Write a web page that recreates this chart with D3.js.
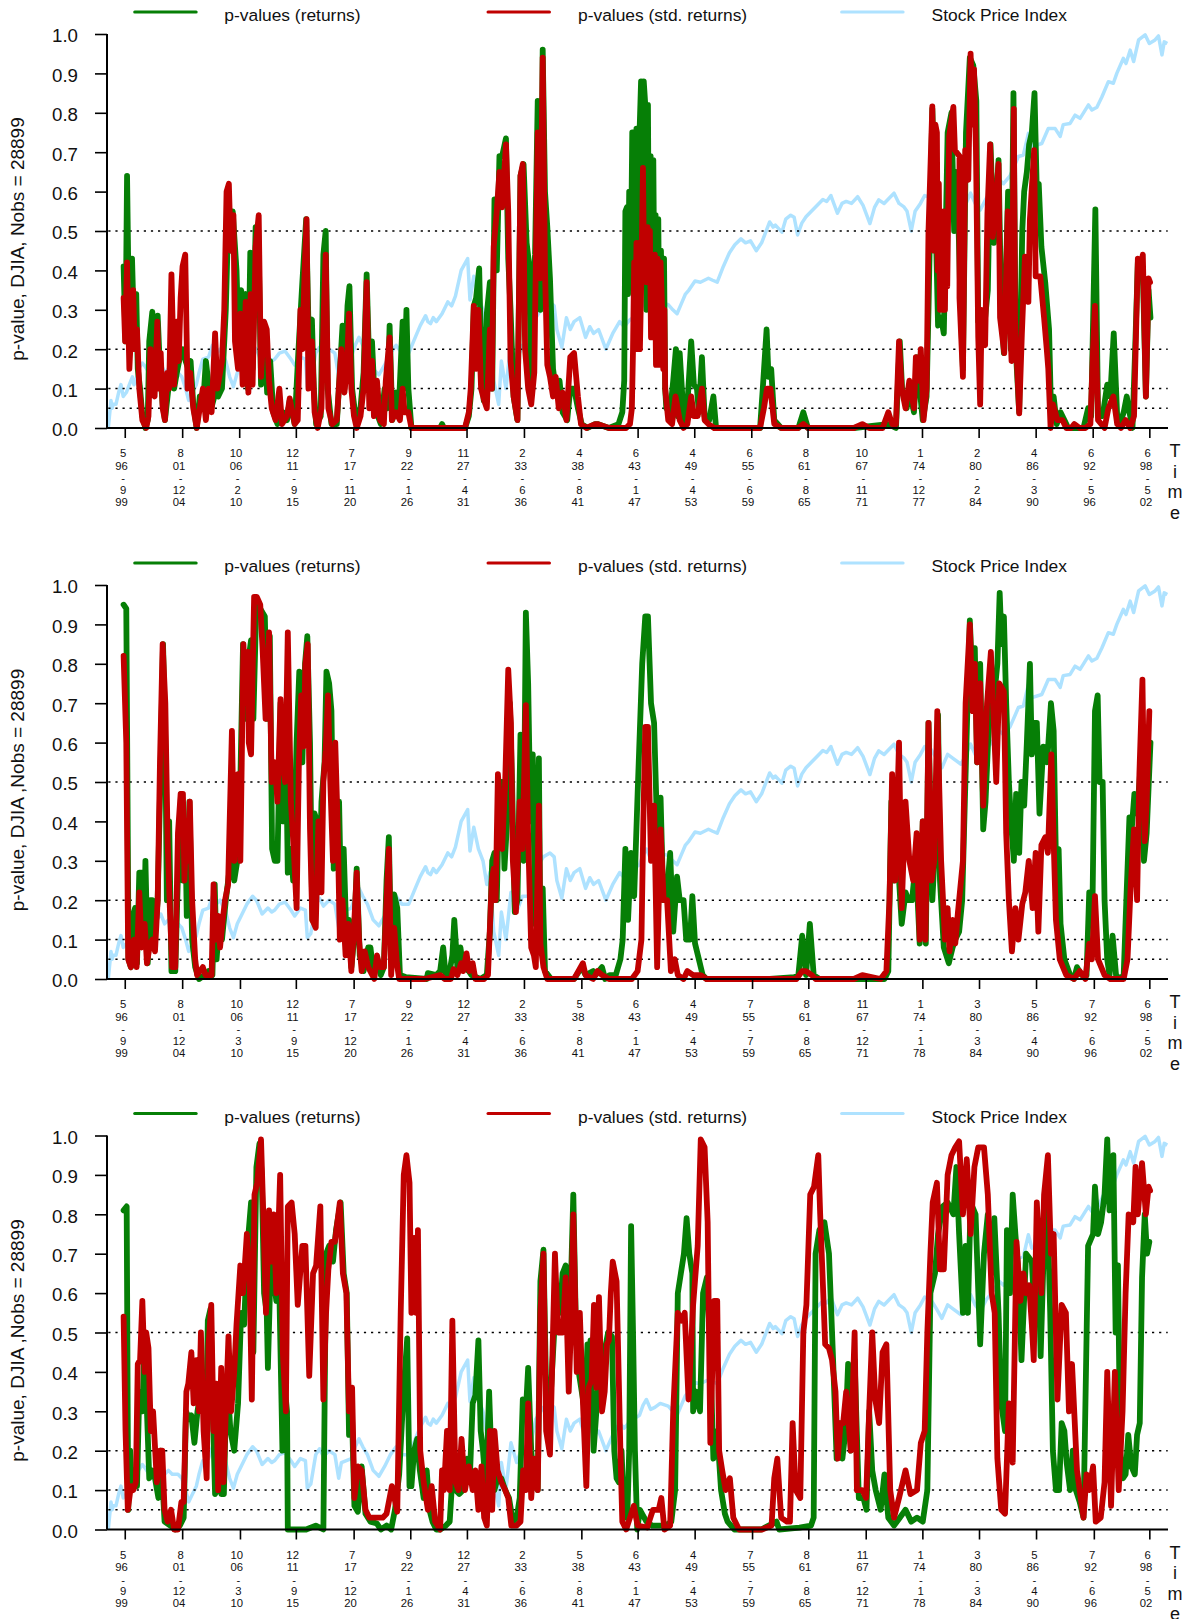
<!DOCTYPE html>
<html><head><meta charset="utf-8"><script src="https://cdn.jsdelivr.net/npm/d3@7"></script>
<style>html,body{margin:0;padding:0;background:#fff;overflow:hidden}svg{display:block}text{font-family:"Liberation Sans",Arial,sans-serif;fill:#111}</style></head>
<body><div id="c"></div>
<script>
// x values are observation numbers /10 on the plot's time axis; y values are p-values (flat x,y lists)
const stockIndex=[283,0,286,.03,290,.07,293,.05,296,.06,303,.06,310,.09,316,.11,322,.08,330,.09,338,.11,346,.13,350,.11,355,.12,362,.15,372,.165,380,.155,390,.14,400,.13,410,.15,420,.165,430,.14,440,.15,450,.14,465,.14,475,.13,485,.1,493,.07,503,.09,513,.11,520,.14,530,.175,545,.18,555,.21,565,.19,575,.2,590,.17,600,.13,610,.105,620,.14,630,.16,645,.19,660,.21,670,.2,685,.165,700,.18,710,.17,718,.175,730,.19,745,.195,760,.175,770,.16,785,.18,798,.175,803,.105,812,.115,825,.19,835,.205,845,.185,860,.2,875,.19,885,.13,892,.17,905,.175,918,.18,928,.21,938,.23,948,.21,960,.19,975,.15,990,.135,1005,.16,1020,.19,1035,.21,1050,.19,1068,.19,1085,.23,1098,.26,1112,.285,1118,.27,1125,.265,1132,.28,1140,.27,1155,.29,1170,.32,1180,.31,1190,.335,1205,.4,1222,.43,1228,.325,1238,.385,1250,.33,1262,.3,1272,.24,1280,.27,1290,.12,1303,.06,1310,.17,1322,.1,1335,.22,1350,.17,1365,.21,1385,.21,1400,.28,1420,.31,1437,.32,1448,.31,1455,.25,1468,.205,1480,.28,1490,.25,1500,.27,1515,.28,1530,.23,1541,.257,1551,.24,1564,.25,1583,.2,1601,.24,1619,.27,1631,.257,1646,.275,1671,.29,1680,.315,1689,.33,1700,.305,1711,.31,1725,.32,1746,.313,1758,.3,1769,.29,1780,.315,1791,.34,1800,.35,1816,.373,1830,.37,1851,.38,1862,.375,1874,.37,1890,.41,1906,.445,1920,.465,1936,.48,1948,.47,1961,.475,1976,.45,1990,.47,2011,.523,2020,.51,2026,.515,2043,.497,2053,.53,2066,.54,2075,.535,2084,.49,2095,.52,2106,.536,2120,.55,2136,.566,2150,.58,2160,.575,2171,.59,2188,.545,2200,.57,2211,.575,2225,.57,2241,.587,2255,.565,2273,.519,2285,.56,2296,.579,2310,.57,2325,.585,2336,.596,2349,.57,2361,.562,2370,.55,2381,.5,2391,.55,2405,.57,2416,.59,2431,.585,2447,.56,2461,.536,2476,.57,2490,.56,2511,.545,2524,.57,2536,.596,2548,.57,2561,.553,2578,.585,2591,.6,2611,.63,2622,.62,2639,.64,2661,.689,2674,.693,2687,.748,2696,.714,2722,.722,2739,.76,2757,.76,2770,.74,2778,.77,2796,.773,2809,.794,2822,.786,2844,.82,2853,.807,2866,.814,2879,.84,2896,.879,2909,.875,2918,.9,2935,.938,2942,.925,2953,.959,2962,.93,2975,.985,2992,.998,3003,.976,3018,.985,3027,.995,3036,.947,3042,.98,3050,.976];

const p1Returns=[323,.41,328,.22,332,.64,336,.35,340,.3,345,.43,350,.25,356,.34,360,.15,366,.1,372,.03,380,0,386,.02,390,.22,398,.295,404,.1,412,.285,418,.15,425,.06,431,.02,440,.1,448,.2,455,.1,462,.14,470,.18,478,.2,485,.17,492,.15,498,.17,505,.06,514,0,522,.08,532,.08,538,.17,545,.11,552,.05,563,.09,570,.08,580,.1,590,.3,597,.55,602,.45,608,.55,618,.4,624,.2,630,.35,636,.3,642,.34,648,.1,654,.445,660,.15,668,.51,675,.5,682,.11,690,.25,698,.09,706,.17,714,.04,725,.01,740,.04,750,.02,757,.07,770,.01,780,.2,790,.37,800,.53,806,.26,815,.275,820,.1,826,.01,838,.03,845,.44,851,.5,856,.1,866,.01,880,.01,895,.26,900,.1,908,.31,913,.36,920,.1,930,.02,940,.03,950,.14,958,.39,965,.15,972,.22,980,.05,995,.01,1005,.1,1012,.05,1018,.26,1025,.02,1035,.09,1042,.05,1052,.27,1056,.1,1062,.3,1067,.1,1075,0,1100,0,1150,0,1155,.01,1160,0,1215,0,1225,.03,1232,.1,1238,.31,1244,.33,1252,.405,1258,.15,1264,.07,1272,.29,1280,.37,1286,.1,1292,.58,1298,.4,1305,.69,1312,.69,1322,.735,1328,.43,1334,.3,1342,.08,1352,.02,1360,.64,1368,.67,1376,.47,1382,.42,1388,.12,1393,.35,1398,.44,1405,.83,1412,.3,1418,.96,1424,.6,1430,.51,1437,.38,1445,.15,1452,.1,1462,.12,1470,.04,1482,.02,1490,.1,1500,.1,1510,.05,1520,.01,1535,0,1555,.01,1561,.01,
1591,0,1616,.01,1626,.04,1631,.12,1634,.55,1638,.56,1641,.34,1644,.6,1648,.38,1652,.75,1656,.75,1659,.35,1663,.76,1667,.4,1671,.75,1675,.88,1679,.36,1682,.88,1686,.82,1689,.3,1693,.82,1696,.3,1700,.69,1703,.3,1707,.68,1710,.3,1713,.54,1716,.25,1720,.53,1723,.2,1727,.45,1730,.2,1735,.43,1738,.1,1741,.05,1751,.04,1759,.12,1766,.2,1771,.03,1776,.19,1786,.03,1793,.01,1806,.22,1813,.11,1821,.1,1826,.04,1834,.18,1841,.03,1853,.02,1864,.08,1871,0,1931,0,1986,0,1993,.1,2003,.25,2008,.13,2015,.15,2023,.02,2041,0,2086,0,2099,.04,2111,0,2231,0,2321,.01,2341,0,2351,.22,2357,.1,2369,.05,2376,.1,2388,.04,2396,.18,2403,.1,2411,.02,2421,.08,2426,.3,2436,.81,2443,.6,2451,.26,2459,.28,2466,.24,2476,.75,2486,.8,2493,.5,2501,.65,2509,.34,2516,.15,2524,.75,2534,.94,2543,.92,2551,.83,2556,.27,2571,.25,2581,.35,2588,.72,2597,.47,2609,.68,2616,.3,2623,.19,2634,.6,2641,.2,2648,.85,2654,.2,2663,.04,2671,.5,2676,.6,2683,.65,2689,.72,2696,.75,2703,.85,2709,.6,2714,.62,2721,.46,2731,.37,2741,.25,2746,.05,2753,.08,2761,.01,2771,.04,2781,.02,2791,0,2831,0,2843,.05,2851,.03,2862,.555,2869,.03,2881,.03,2893,.11,2901,.08,2910,.24,2919,.03,2926,.01,2936,.04,2944,.08,2951,.04,2959,0,2966,.2,2973,.42,2981,.42,2986,.4,2994,.08,3001,.35,3006,.28];
const p1Std=[323,.33,327,.22,332,.42,338,.15,348,.35,352,.2,358,.25,364,.1,372,.02,382,0,388,.03,393,.2,399,.09,404,.08,411,.27,416,.1,420,.19,425,.05,431,.02,437,.14,442,.1,448,.39,455,.11,461,.27,467,.17,472,.33,477,.41,484,.44,490,.1,497,.14,505,.05,514,0,522,.05,530,.1,538,.02,545,.1,553,.04,562,.24,568,.1,580,.17,586,.3,592,.6,598,.62,603,.45,610,.54,614,.22,622,.15,628,.29,634,.11,642,.32,649,.09,655,.34,660,.11,668,.46,676,.54,682,.13,690,.27,697,.25,703,.12,710,.05,720,.02,730,.1,737,.01,750,.03,757,.075,770,.01,778,.02,785,.3,790,.2,796,.4,801,.53,806,.1,815,.22,822,.04,830,0,840,.05,846,.3,851,.44,858,.05,868,.01,880,.02,892,.2,900,.09,906,.15,912,.29,918,.1,925,.03,932,0,942,.03,950,.1,958,.37,965,.05,972,.17,977,.03,985,.12,993,.02,1003,.01,1008,.12,1018,.23,1024,.02,1035,.04,1045,.02,1052,.1,1057,.04,1067,.04,1075,0,1130,0,1150,0,1215,0,1225,.04,1230,.1,1238,.31,1244,.15,1250,.3,1257,.1,1265,.07,1272,.05,1280,.25,1285,.1,1290,.46,1298,.55,1305,.65,1312,.56,1322,.72,1328,.55,1334,.17,1342,.08,1352,.02,1360,.64,1366,.67,1372,.2,1380,.1,1388,.06,1396,.14,1405,.75,1411,.38,1418,.94,1424,.4,1430,.16,1437,.13,1445,.08,1452,.13,1460,.05,1470,.09,1480,.02,1490,.18,1500,.19,1510,.08,1518,.01,1532,0,1555,.01,1561,.01,
1591,0,1636,0,1646,.01,1651,.05,1654,.2,1657,.42,1660,.2,1663,.47,1666,.2,1669,.47,1672,.2,1676,.4,1680,.66,1683,.38,1686,.5,1689,.37,1692,.51,1695,.37,1698,.5,1701,.23,1705,.44,1708,.23,1711,.44,1714,.16,1718,.43,1721,.16,1726,.42,1730,.3,1733,.15,1736,.3,1738,.1,1746,.02,1756,.01,1765,.08,1776,.02,1786,0,1796,.01,1806,.08,1813,.03,1823,.03,1834,.1,1841,.02,1851,.01,1866,0,1986,0,1996,.05,2004,.1,2013,.1,2023,.01,2041,0,2086,0,2099,.01,2111,0,2231,0,2253,.01,2271,0,2306,0,2321,.04,2331,.01,2341,.01,2349,.22,2356,.1,2366,.05,2376,.12,2388,.05,2393,.18,2401,.12,2406,.2,2413,.02,2421,.1,2426,.5,2436,.816,2440,.45,2444,.77,2448,.75,2450,.4,2453,.62,2456,.3,2460,.55,2463,.3,2466,.55,2469,.3,2472,.55,2475,.36,2480,.74,2491,.815,2495,.705,2507,.69,2507,.33,2516,.13,2522,.705,2530,.63,2536,.95,2542,.77,2545,.91,2550,.705,2556,.23,2561,.06,2565,.3,2574,.21,2580,.545,2587,.72,2594,.485,2609,.67,2613,.28,2624,.19,2633,.55,2639,.28,2643,.17,2649,.81,2652,.28,2663,.037,2670,.24,2678,.435,2687,.32,2691,.53,2702,.705,2706,.385,2718,.385,2728,.28,2735,.2,2739,.15,2745,0,2751,.06,2763,.02,2776,.02,2786,0,2799,0,2807,.01,2821,0,2836,0,2849,.01,2856,.2,2861,.31,2869,.02,2886,0,2896,.05,2909,.08,2919,.01,2929,0,2941,.02,2953,0,2963,.03,2973,.43,2981,.41,2986,.44,2994,.08,3001,.38,3005,.37];
const p2Returns=[323,.95,330,.94,336,.05,342,.03,347,.16,353,.18,358,.04,364,.27,372,.27,376,.1,380,.3,386,.04,393,.2,398,.2,404,.1,412,.2,420,.55,426,.85,432,.6,436,.2,442,.4,448,.02,458,.02,466,.3,473,.47,478,.25,484,.4,488,.16,495,.45,502,.1,510,.03,520,0,535,.01,545,.02,555,.01,561,.24,566,.05,573,.15,580,.1,590,.2,600,.28,606,.55,612,.25,620,.3,628,.5,635,.85,641,.66,648,.8,656,.86,662,.66,670,.96,680,.94,692,.92,698,.66,705,.87,711,.33,718,.3,725,.3,733,.7,740,.4,747,.62,752,.27,760,.33,766,.25,775,.6,782,.78,790,.55,797,.8,803,.87,810,.6,816,.15,822,.42,828,.4,834,.22,840,.45,848,.55,853,.78,860,.75,866,.68,872,.28,880,.4,886,.45,892,.15,898,.33,906,.08,912,.15,918,.03,925,.1,932,.28,940,.06,950,.02,962,.08,968,.08,975,.02,985,.05,995,.01,1003,.03,1010,.25,1016,.36,1022,.08,1030,.215,1038,.18,1045,.01,1060,.005,1115,0,1118,.015,1140,.01,1150,.02,1158,.08,1165,0,1175,.02,1182,.06,1187,.15,1195,.03,1203,.08,1210,.03,1225,.02,1232,.01,1255,0,1272,.01,1280,.12,1286,.3,1292,.32,1298,.2,1305,.5,1312,.5,1318,.28,1325,.4,1332,.7,1338,.5,1345,.17,1352,.2,1360,.62,1368,.3,1374,.93,1380,.75,1386,.4,1392,.57,1398,.14,1408,.56,1412,.1,1418,.23,1424,.02,1440,0,1500,0,1520,.03,1530,.01,1550,.02,
1556,.01,1573,.03,1581,0,1593,.01,1609,.01,1621,.05,1627,.1,1634,.33,1641,.15,1649,.32,1657,.21,1666,.47,1678,.8,1686,.92,1693,.92,1701,.7,1709,.65,1714,.48,1719,.3,1726,.46,1733,.2,1741,.2,1751,.32,1759,.12,1769,.26,1776,.2,1786,.2,1793,.1,1803,.1,1809,.21,1816,.09,1826,.05,1836,.01,1846,0,2011,0,2076,.005,2086,.01,2096,.11,2106,.01,2116,.14,2126,.01,2141,0,2311,0,2321,.02,2329,.45,2336,.25,2346,.3,2356,.14,2366,.22,2374,.2,2383,.2,2393,.3,2403,.09,2411,.4,2419,.09,2426,.65,2436,.2,2444,.35,2451,.67,2456,.25,2466,.08,2479,.04,2489,.08,2496,.1,2506,.12,2514,.2,2521,.45,2534,.91,2541,.75,2547,.84,2553,.55,2561,.8,2569,.38,2575,.45,2583,.63,2589,.75,2596,.7,2606,.8,2612,.98,2617,.85,2623,.92,2629,.7,2636,.5,2643,.38,2649,.3,2655,.47,2663,.32,2669,.5,2676,.44,2683,.6,2691,.8,2696,.57,2703,.65,2709,.65,2716,.42,2726,.59,2736,.55,2746,.7,2753,.63,2759,.3,2766,.33,2771,.14,2781,.05,2796,.01,2806,0,2814,.03,2826,.01,2839,.01,2846,.22,2854,.15,2861,.68,2868,.72,2873,.5,2881,.5,2886,.2,2893,.05,2899,.01,2907,.11,2916,.01,2926,0,2936,.01,2943,.2,2951,.41,2957,.38,2964,.47,2971,.42,2981,.55,2989,.3,2996,.37,3006,.6];
const p2Std=[323,.82,330,.6,335,.05,342,.03,350,.1,357,.03,364,.22,370,.08,378,.14,384,.04,392,.09,398,.1,405,.07,412,.2,418,.55,425,.85,432,.7,438,.35,443,.2,450,.03,458,.03,465,.37,472,.47,478,.47,482,.25,487,.4,491,.3,496,.45,502,.2,510,.05,515,.01,530,.03,537,.01,553,.01,558,.24,564,.1,570,.16,575,.08,582,.15,588,.2,596,.24,606,.63,612,.3,622,.52,628,.3,636,.85,642,.7,648,.83,650,.6,656,.57,664,.97,671,.97,680,.95,686,.84,694,.66,703,.88,710,.5,718,.55,725,.45,733,.71,738,.55,745,.5,752,.88,760,.45,768,.32,775,.18,781,.55,787,.72,793,.59,798,.8,804,.85,810,.38,816,.15,825,.13,832,.4,840,.22,845,.5,851,.58,857,.72,863,.5,870,.3,876,.6,882,.4,888,.1,895,.2,903,.06,910,.14,918,.02,925,.13,932,.27,938,.1,945,.02,953,.07,962,.03,978,0,985,.06,992,.03,1003,.03,1010,.2,1016,.33,1022,.01,1030,.13,1037,.04,1043,0,1110,0,1150,.01,1162,0,1178,0,1185,.025,1195,.01,1205,.04,1210,.02,1219,.065,1226,.02,1235,.04,1242,0,1265,0,1275,.01,1285,.25,1290,.28,1295,.2,1301,.52,1306,.45,1312,.33,1320,.5,1328,.785,1335,.65,1340,.3,1348,.17,1358,.45,1365,.33,1374,.695,1380,.36,1388,.08,1395,.06,1400,.03,1408,.44,1412,.09,1420,.03,1430,0,1460,0,1500,0,1523,.04,1530,.01,1550,0,1561,.02,
1573,.01,1591,0,1651,0,1666,.02,1676,.1,1681,.4,1686,.64,1693,.64,1701,.3,1709,.44,1717,.03,1726,.38,1734,.2,1743,.2,1753,.02,1763,.05,1771,.01,1786,0,1796,.02,1811,.01,1831,.01,1846,0,2081,0,2096,.02,2106,.02,2121,.01,2131,0,2231,0,2253,.01,2301,0,2316,.02,2324,.2,2331,.52,2339,.25,2349,.6,2356,.18,2366,.45,2376,.3,2386,.25,2395,.37,2403,.1,2411,.4,2418,.1,2426,.65,2434,.25,2441,.3,2449,.68,2459,.3,2469,.1,2476,.18,2481,.07,2489,.15,2496,.09,2503,.17,2516,.3,2523,.7,2534,.9,2541,.68,2547,.8,2553,.55,2561,.75,2569,.44,2579,.7,2589,.83,2603,.5,2611,.75,2623,.73,2629,.37,2636,.2,2644,.07,2653,.18,2661,.1,2671,.19,2679,.22,2688,.3,2698,.18,2706,.32,2713,.12,2721,.34,2731,.36,2738,.32,2747,.57,2753,.35,2759,.15,2769,.05,2786,.01,2806,0,2821,.02,2836,0,2846,.09,2853,.05,2861,.21,2869,.05,2886,.01,2901,0,2936,0,2946,.05,2954,.23,2963,.38,2971,.2,2977,.52,2985,.76,2991,.35,2996,.45,3003,.68];
const p3Returns=[323,.81,331,.82,335,.05,340,.2,345,.1,352,.15,358,.11,364,.35,372,.3,378,.48,384,.3,390,.13,398,.15,405,.13,414,.08,420,.2,430,.02,445,.01,458,0,470,.01,480,.03,486,.3,495,.28,500,.29,508,.22,516,.3,525,.35,530,.4,538,.25,543,.53,550,.56,556,.3,562,.09,572,.12,578,.09,585,.09,590,.3,596,.35,602,.25,612,.2,622,.32,630,.55,638,.52,645,.7,656,.83,662,.45,670,.92,678,.98,684,.9,690,.6,697,.55,700,.41,708,.7,715,.64,722,.58,730,.6,738,.2,745,.35,750,.3,752,0,800,0,825,.01,845,0,848,.3,852,.7,860,.72,870,.68,878,.76,890,.83,898,.65,906,.6,912,.24,920,.28,926,.06,935,.045,945,.16,955,.04,968,.02,985,.015,995,0,1010,.01,1022,0,1032,.05,1043,.14,1055,.36,1064,.485,1070,.11,1075,.11,1082,.2,1090,.23,1097,.15,1107,.08,1115,.15,1122,.05,1130,.02,1140,0,1150,0,1165,.01,1175,.02,1182,.13,1190,.1,1200,.09,1210,.1,1220,.18,1228,.14,1235,.32,1242,.34,1250,.48,1256,.25,1262,.2,1270,.1,1278,.35,1285,.15,1292,.1,1300,.13,1310,.13,1320,.1,1330,.08,1340,.02,1350,.03,1358,.08,1366,.33,1374,.3,1380,.41,1388,.2,1395,.13,1405,.1,1412,.63,1420,.71,1428,.3,1440,.36,1448,.5,1455,.6,1463,.55,1470,.65,1478,.67,1485,.5,1491,.6,1498,.85,1505,.5,1512,.4,1520,.35,1528,.3,1535,.47,1536,.3,1543,.48,1551,.2,1559,.31,1567,.42,1581,.46,1589,.5,1599,.49,1605,.2,1611,.13,1617,.12,1624,.2,1631,.03,1639,.03,1644,.2,1649,.77,1654,.5,1659,.2,1665,0,1672,.05,1689,.02,1704,.01,1739,.01,1754,.02,1764,.1,1771,.6,1779,.65,1787,.7,1794,.79,1801,.7,1809,.65,1811,.3,1819,.35,1829,.3,1837,.6,1847,.64,1854,.5,1864,.18,1874,.25,1884,.1,1894,.04,1901,.02,1919,0,1989,0,2029,.02,2036,0,2089,.005,2119,.01,2126,.03,2131,.7,2141,.76,2154,.78,2166,.7,2176,.45,2186,.18,2194,.27,2201,.18,2209,.25,2216,.42,2223,.2,2233,.43,2244,.08,2256,.08,2264,.05,2271,.3,2279,.15,2288,.1,2301,.05,2311,.14,2321,.03,2336,.01,2351,.03,2366,.05,2381,.02,2396,.03,2411,.02,2423,.1,2431,.6,2443,.65,2451,.75,2463,.82,2476,.83,2481,.82,2491,.8,2499,.92,2506,.75,2516,.55,2523,.72,2529,.55,2536,.83,2549,.8,2561,.47,2571,.7,2581,.8,2591,.65,2598,.79,2609,.55,2616,.32,2626,.25,2631,.76,2639,.6,2646,.85,2653,.75,2661,.65,2669,.43,2681,.7,2696,.68,2703,.55,2713,.68,2719,.44,2726,.67,2736,.85,2744,.55,2751,.2,2759,.1,2767,.1,2774,.27,2781,.25,2787,.17,2796,.1,2803,.2,2811,.1,2821,.07,2831,.03,2843,.72,2856,.75,2861,.87,2869,.75,2877,.78,2886,.85,2893,.99,2899,.81,2909,.95,2915,.5,2921,.67,2927,.2,2934,.13,2941,.14,2948,.24,2956,.16,2965,.14,2971,.24,2978,.27,2984,.64,2991,.8,2997,.7,3003,.73];
const p3Std=[323,.54,328,.25,334,.05,342,.11,348,.1,355,.12,360,.42,366,.43,372,.58,378,.4,382,.5,388,.46,394,.25,400,.3,410,.12,418,.2,424,.2,430,.05,438,.02,447,.05,455,0,465,0,474,.07,480,.07,487,.35,492,.37,500,.45,506,.32,513,.43,520,.3,525,.5,532,.25,540,.13,545,.47,552,.57,558,.25,565,.37,570,.1,578,.41,584,.12,590,.3,597,.49,604,.3,612,.4,618,.52,628,.67,635,.6,645,.75,652,.65,658,.33,665,.85,672,.88,682,.99,688,.8,695,.55,703,.81,709,.68,715,.8,722,.6,732,.9,739,.45,747,.3,752,.82,762,.83,770,.75,778,.57,790,.72,798,.72,808,.39,818,.65,826,.67,837,.82,845,.33,852,.55,858,.66,866,.73,875,.73,888,.83,896,.65,905,.6,912,.3,920,.36,926,.08,935,.16,945,.15,955,.05,965,.03,985,.03,1000,.03,1010,.04,1024,.11,1038,.045,1047,.55,1055,.9,1062,.95,1070,.88,1075,.55,1082,.74,1087,.55,1092,.76,1098,.2,1107,.12,1118,.05,1128,.11,1137,.02,1150,0,1155,.15,1160,.1,1168,.25,1175,.1,1182,.53,1190,.12,1198,.1,1206,.23,1215,.1,1225,.16,1235,.1,1242,.15,1250,.05,1258,.16,1265,.03,1272,.01,1280,.25,1286,.05,1292,.25,1300,.15,1310,.12,1320,.1,1328,.08,1336,.01,1350,.01,1360,.02,1367,.15,1374,.1,1380,.32,1388,.08,1395,.18,1405,.1,1412,.55,1420,.7,1427,.25,1437,.19,1450,.7,1458,.5,1470,.5,1478,.64,1486,.35,1491,.49,1498,.8,1507,.4,1515,.55,1522,.35,1532,.11,1538,.36,1546,.38,1552,.57,1558,.36,1565,.59,1573,.3,1580,.35,1586,.47,1591,.48,1596,.6,1601,.68,1611,.63,1621,.2,1626,.02,1636,0,1656,.06,1666,.01,1691,.005,1706,.05,1721,.05,1728,.08,1736,0,1751,.01,1759,.3,1771,.55,1781,.53,1789,.55,1799,.33,1811,.57,1823,.72,1831,.99,1841,.97,1849,.78,1856,.22,1866,.58,1874,.58,1879,.2,1887,.15,1896,.1,1907,.13,1916,.03,1931,0,1991,0,2016,.01,2023,.13,2031,.18,2041,.03,2056,.02,2064,.02,2071,.27,2079,.1,2091,.08,2099,.5,2107,.57,2117,.85,2127,.87,2138,.95,2143,.8,2151,.6,2156,.47,2166,.46,2174,.43,2183,.35,2189,.18,2196,.27,2203,.27,2211,.35,2223,.2,2233,.5,2239,.1,2253,.1,2263,.08,2271,.3,2279,.5,2287,.33,2297,.27,2306,.45,2316,.47,2326,.1,2336,.03,2349,.08,2366,.15,2379,.09,2396,.1,2406,.22,2416,.25,2423,.5,2431,.7,2437,.83,2448,.88,2456,.66,2466,.66,2476,.9,2486,.95,2496,.97,2506,.985,2516,.8,2526,.94,2536,.75,2546,.92,2556,.97,2571,.97,2581,.85,2591,.6,2599,.55,2606,.18,2616,.05,2626,.04,2636,.32,2646,.17,2656,.73,2666,.58,2674,.65,2681,.6,2689,.62,2696,.52,2701,.43,2709,.83,2721,.6,2728,.85,2738,.95,2746,.7,2753,.75,2763,.33,2774,.57,2785,.55,2793,.3,2801,.42,2814,.15,2821,.1,2831,.03,2839,.14,2846,.1,2856,.16,2863,.02,2876,.03,2886,.12,2893,.4,2903,.06,2913,.4,2923,.1,2933,.3,2941,.6,2949,.8,2961,.78,2967,.92,2973,.8,2984,.93,2994,.8,3001,.87,3005,.86];

const yTickValues=[0,.1,.2,.3,.4,.5,.6,.7,.8,.9,1];
const refLevels=[.05,.1,.2,.5];
const ticksA=[326,476,625,773,923,1072,1219,1369,1518,1666,1814,1963,2110,2260,2409,2557,2706,2855,3003];
const ticksB=[326,476,627,773,924,1072,1220,1369,1519,1666,1815,1965,2112,2262,2410,2558,2707,2858,3003];
const startA=[["5","96"],["8","01"],["10","06"],["12","11"],["7","17"],["9","22"],["11","27"],["2","33"],["4","38"],["6","43"],["4","49"],["6","55"],["8","61"],["10","67"],["1","74"],["2","80"],["4","86"],["6","92"],["6","98"]];
const endA=[["9","99"],["12","04"],["2","10"],["9","15"],["11","20"],["1","26"],["4","31"],["6","36"],["8","41"],["1","47"],["4","53"],["6","59"],["8","65"],["11","71"],["12","77"],["2","84"],["3","90"],["5","96"],["5","02"]];
const startB=[["5","96"],["8","01"],["10","06"],["12","11"],["7","17"],["9","22"],["12","27"],["2","33"],["5","38"],["6","43"],["4","49"],["7","55"],["8","61"],["11","67"],["1","74"],["3","80"],["5","86"],["7","92"],["6","98"]];
const endB=[["9","99"],["12","04"],["3","10"],["9","15"],["12","20"],["1","26"],["4","31"],["6","36"],["8","41"],["1","47"],["4","53"],["7","59"],["8","65"],["12","71"],["1","78"],["3","84"],["4","90"],["6","96"],["5","02"]];
const legendLabels=["p-values (returns)","p-values (std. returns)","Stock Price Index"];
const C={g:"#067f06",r:"#c00000",b:"#aee2ff"};

const panels=[
 {top:34,bottom:428,ylab:"p-value, DJIA, Nobs = 28899",ret:p1Returns,std:p1Std,ticks:ticksA,s:startA,e:endA},
 {top:585,bottom:979,ylab:"p-value, DJIA ,Nobs = 28899",ret:p2Returns,std:p2Std,ticks:ticksB,s:startB,e:endB},
 {top:1135.5,bottom:1529.5,ylab:"p-value, DJIA ,Nobs = 28899",ret:p3Returns,std:p3Std,ticks:ticksB,s:startB,e:endB}];

const pairs=a=>d3.range(0,a.length,2).map(i=>[a[i],a[i+1]]);
const svg=d3.select("#c").append("svg").attr("width",1186).attr("height",1619);
const x=d3.scaleLinear().domain([283,3051]).range([108.3,1167.7]);

panels.forEach(P=>{
  const g=svg.append("g");
  const y=d3.scaleLinear().domain([0,1]).range([P.bottom,P.top]);
  const line=d3.line().x(d=>x(d[0])).y(d=>y(d[1])).curve(d3.curveLinear);
  g.append("path").attr("d",line(pairs(stockIndex))).attr("fill","none").attr("stroke",C.b).attr("stroke-width",3.5).attr("stroke-linejoin","round");
  refLevels.forEach(v=>g.append("line").attr("x1",x.range()[0]).attr("x2",x.range()[1]).attr("y1",y(v)).attr("y2",y(v)).attr("stroke","#000").attr("stroke-width",1.5).attr("stroke-dasharray","2.2 4.9"));
  [[P.ret,C.g],[P.std,C.r]].forEach(([d,c])=>g.append("path").attr("d",line(pairs(d))).attr("fill","none").attr("stroke",c).attr("stroke-width",5.8).attr("stroke-linejoin","round").attr("stroke-linecap","round"));

  const ax=g.append("g").attr("transform",`translate(107,0)`).call(d3.axisLeft(y).tickValues(yTickValues).tickFormat(d3.format(".1f")).tickSize(12).tickPadding(17));
  ax.selectAll("line").attr("stroke","#000").attr("stroke-width",1.6);
  ax.select(".domain").attr("stroke","#000").attr("stroke-width",2).attr("d",`M0,${P.top}V${P.bottom}`);
  ax.selectAll("text").attr("dy","0.42em").style("font-size","18.7px").style("font-family","'Liberation Sans'");

  const bx=g.append("g").attr("transform",`translate(0,${P.bottom})`).call(d3.axisBottom(x).tickValues(P.ticks).tickFormat("").tickSize(10));
  bx.selectAll("line").attr("stroke","#000").attr("stroke-width",1.6);
  bx.select(".domain").attr("stroke","#000").attr("stroke-width",1.8).attr("d",`M107,0H1168`);

  P.ticks.forEach((t,i)=>{
    const rows=[[P.s[i][0],25.5],[P.s[i][1],38],["-",50.5],[P.e[i][0],62],[P.e[i][1],74]];
    rows.forEach(([s,dy])=>g.append("text").attr("x",x(t)-(s.length>1?3.2:1.6)).attr("y",P.bottom+dy).attr("dy","0.35em").attr("text-anchor","middle").style("font-size","11.3px").attr("fill","#222").text(s));
  });
  ["T","i","m","e"].forEach((ch,i)=>g.append("text").attr("x",1175).attr("y",P.bottom+23+20.5*i).attr("dy","0.35em").attr("text-anchor","middle").style("font-size","18px").text(ch));

  g.append("text").attr("transform",`translate(17,${(P.top+P.bottom)/2+8}) rotate(-90)`).attr("dy","0.35em").attr("text-anchor","middle").style("font-size","19px").text(P.ylab);

  const ly=P.top-22;
  [[134.7,224.3,C.g],[488,578,C.r],[841.6,931.6,C.b]].forEach(([x0,tx,c],i)=>{
    g.append("line").attr("x1",x0).attr("x2",x0+61.5).attr("y1",ly).attr("y2",ly).attr("stroke",c).attr("stroke-width",3).attr("stroke-linecap","round");
    g.append("text").attr("x",tx).attr("y",ly+3).attr("dy","0.35em").style("font-size","17.4px").text(legendLabels[i]);
  });
});
</script></body></html>
